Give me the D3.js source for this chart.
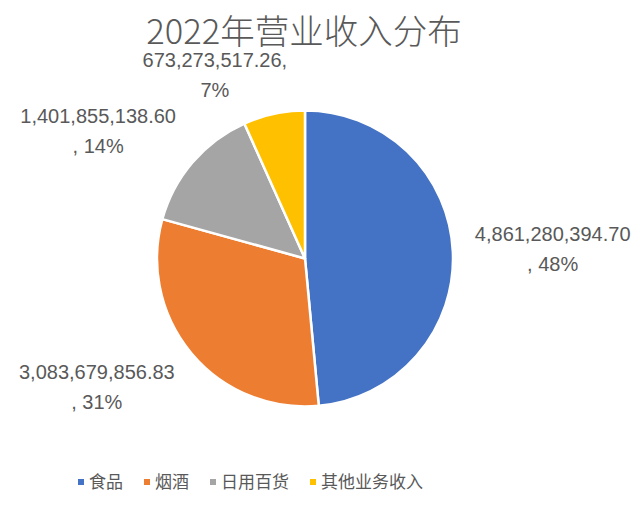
<!DOCTYPE html>
<html><head><meta charset="utf-8">
<script src="https://cdn.jsdelivr.net/npm/d3@7"></script>
<style>body{margin:0;background:#fff}</style>
</head><body>
<svg id="chart" width="640" height="505"></svg>
<script>
const title = "2022年营业收入分布";
const categories = ["食品", "烟酒", "日用百货", "其他业务收入"];
const values = [4861280394.70, 3083679856.83, 1401855138.60, 673273517.26];
const percents = [48, 31, 14, 7];
const colors = ["#4472C4", "#ED7D31", "#A5A5A5", "#FFC000"];

const W = 640, H = 505;
const cx = 305, cy = 258.5, R = 148;
const svg = d3.select("#chart");
svg.append("rect").attr("width", W).attr("height", H).attr("fill", "#fff");

svg.append("text").attr("x", 304).attr("y", 44).attr("text-anchor", "middle")
  .attr("font-family", "'Noto Sans CJK SC', sans-serif").attr("font-weight", 300)
  .attr("font-size", 34.5).attr("fill", "#595959").text(title);

const data = categories.map((c, i) => ({cat: c, value: values[i], pct: percents[i], color: colors[i]}));
const pie = d3.pie().sort(null).value(d => d.value);
const arcs = pie(data);
const arc = d3.arc().innerRadius(0).outerRadius(R);

const g = svg.append("g").attr("transform", `translate(${cx},${cy})`);
g.selectAll("path").data(arcs).join("path")
  .attr("d", arc).attr("fill", d => d.data.color)
  .attr("stroke", "#fff").attr("stroke-width", 2.5).attr("stroke-linejoin", "round");

const fmtV = d3.format(",.2f");
const labelR = R + 22;
const clamp = v => Math.max(-1, Math.min(1, v));
arcs.forEach(a => {
  const v = fmtV(a.data.value), p = a.data.pct + "%";
  const lines = v.length < 16 ? [v + ",", p] : [v, ", " + p];
  const mid = (a.startAngle + a.endAngle) / 2;
  const sx = Math.sin(mid), sy = -Math.cos(mid);
  const px = cx + labelR * sx, py = cy + labelR * sy;
  const t = svg.append("text").attr("font-family", "'Liberation Sans', Arial, sans-serif")
    .attr("font-size", 20).attr("fill", "#595959").attr("text-anchor", "middle");
  lines.forEach((l, i) => t.append("tspan").attr("x", 0).attr("dy", i === 0 ? 0 : 30).text(l));
  const bb = t.node().getBBox();
  const w = bb.width, h = bb.height - 16;
  const ccx = px + (w / 2) * clamp(sx * 3.6);
  const ccy = py + (h / 2) * clamp(sy * 3.6) + 1;
  const dx = ccx - (bb.x + bb.width / 2), dy = ccy - (bb.y + bb.height / 2);
  t.attr("transform", `translate(${dx},${dy})`);
});

// legend
const lg = svg.append("g");
let lx = 78;
const ly = 488;
data.forEach(d => {
  lg.append("rect").attr("x", lx).attr("y", ly - 9).attr("width", 6).attr("height", 6).attr("fill", d.color);
  const t = lg.append("text").attr("x", lx + 11).attr("y", ly)
    .attr("font-family", "'Noto Sans CJK SC', sans-serif").attr("font-size", 17)
    .attr("fill", "#595959").text(d.cat);
  lx += 11 + t.node().getComputedTextLength() + 21;
});
</script>
</body></html>
